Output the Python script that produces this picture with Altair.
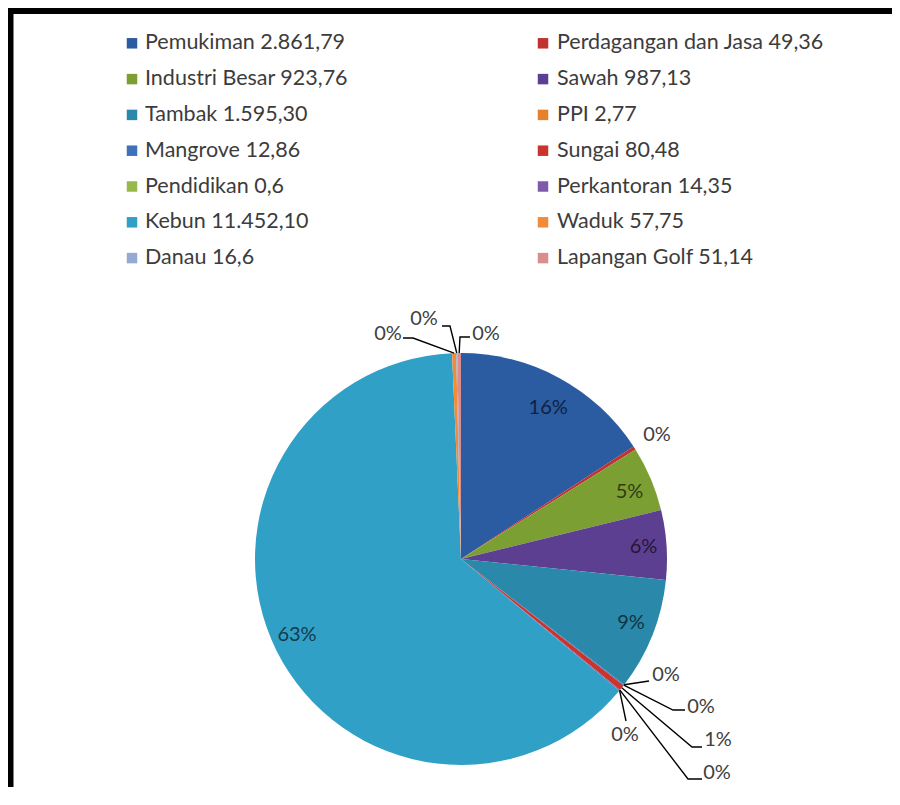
import math
import altair as alt
import pandas as pd

# ---------------- data ----------------
categories = ["Pemukiman", "Perdagangan dan Jasa", "Industri Besar", "Sawah", "Tambak",
              "PPI", "Mangrove", "Sungai", "Pendidikan", "Perkantoran",
              "Kebun", "Waduk", "Danau", "Lapangan Golf"]
areas = [2861.79, 49.36, 923.76, 987.13, 1595.30,
         2.77, 12.86, 80.48, 0.6, 14.35,
         11452.10, 57.75, 16.6, 51.14]
area_text = ["2.861,79", "49,36", "923,76", "987,13", "1.595,30",
             "2,77", "12,86", "80,48", "0,6", "14,35",
             "11.452,10", "57,75", "16,6", "51,14"]
pct_text = ["16%", "0%", "5%", "6%", "9%",
            "0%", "0%", "1%", "0%", "0%",
            "63%", "0%", "0%", "0%"]

# ---------------- styling / layout ----------------
colors = ["#2B5BA1", "#C0312F", "#7C9F34", "#5D3F91", "#2A89AB",
          "#E5802B", "#3D72BA", "#C9342F", "#95B94A", "#7D5BA8",
          "#31A0C6", "#F08C35", "#96A9D3", "#D98E8C"]

CX, CY = 461, 559          # pie centre (page px)
R = 206                    # pie radius
OX, OY = 30, 321           # view origin (page px)
W, H = 862, 466            # view size
inside = {"Pemukiman", "Industri Besar", "Sawah", "Tambak", "Kebun"}
LRX, LRY = 183, 172        # inside label radii

# legend grid layout (page px): two columns, row-major
LEG_SYM_X = [132, 543]
LEG_TXT_X = [145, 557]
LEG_Y0, LEG_DY = 43.3, 35.8

# callout label layout for the small slices (page px)
callouts = {
    "Perdagangan dan Jasa": dict(label=(657, 435), bends=None),
    "Waduk": dict(label=(388, 334), bends=[(413, 338), (403, 338)]),
    "Danau": dict(label=(424, 319), bends=[(450, 326), (442, 326)]),
    "Lapangan Golf": dict(label=(486, 334), bends=[(460, 337), (470, 337)]),
    "PPI": dict(label=(666, 675), bends=[(649, 681)]),
    "Mangrove": dict(label=(701, 707), bends=[(673, 710), (685, 710)]),
    "Sungai": dict(label=(718, 740), bends=[(692, 747), (702, 747)]),
    "Pendidikan": dict(label=(717, 773), bends=[(688, 779), (702, 779)]),
    "Perkantoran": dict(label=(625, 735), bends=[(626, 721)]),
}


def darken(hexc, f=0.38):
    r, g, b = (int(hexc[i:i + 2], 16) for i in (1, 3, 5))
    return "#%02x%02x%02x" % (int(r * f), int(g * f), int(b * f))


legend_labels = [f"{c} {t}" for c, t in zip(categories, area_text)]
pie_df = pd.DataFrame({"idx": range(len(categories)), "area": areas,
                       "legend_label": legend_labels})

leg_df = pd.DataFrame({
    "legend_label": legend_labels,
    "sx": [LEG_SYM_X[i % 2] - OX for i in range(len(categories))],
    "tx": [LEG_TXT_X[i % 2] - OX for i in range(len(categories))],
    "vy": [LEG_Y0 + LEG_DY * (i // 2) - OY for i in range(len(categories))],
})

# label anchors derived from the slice angles (converted to view pixels)
total = sum(areas)
cum = 0.0
in_rows, out_rows, line_rows = [], [], []
for i, (c, a) in enumerate(zip(categories, areas)):
    start = cum / total * 2 * math.pi
    cum += a
    end = cum / total * 2 * math.pi
    mid = (start + end) / 2
    if c in inside:
        in_rows.append(dict(vx=CX + LRX * math.sin(mid) - OX,
                            vy=CY - LRY * math.cos(mid) - OY,
                            pct=pct_text[i], tcol=darken(colors[i])))
    else:
        co = callouts[c]
        out_rows.append(dict(vx=co["label"][0] - OX, vy=co["label"][1] - OY, pct=pct_text[i]))
        if co["bends"]:
            pts = [(CX + R * math.sin(mid), CY - R * math.cos(mid))] + co["bends"]
            for s, (x, y) in enumerate(pts):
                line_rows.append(dict(id=c, seq=s, vx=x - OX, vy=y - OY))

in_df = pd.DataFrame(in_rows)
out_df = pd.DataFrame(out_rows)
line_df = pd.DataFrame(line_rows)

FONT = "Lato"
color_scale = alt.Scale(domain=legend_labels, range=colors)

one = alt.Data(values=[{"a": 1}])
frame_left = alt.Chart(one).mark_rule(color="black", strokeWidth=7).encode(
    x=alt.value(10 - OX), y=alt.value(8 - OY), y2=alt.value(H + 40))
frame_top = alt.Chart(one).mark_rule(color="black", strokeWidth=6).encode(
    x=alt.value(6 - OX), x2=alt.value(W + 40), y=alt.value(11 - OY))

pie = alt.Chart(pie_df).mark_arc(radius=R).encode(
    x=alt.value(CX - OX),
    y=alt.value(CY - OY),
    theta=alt.Theta("area:Q", stack=True),
    order=alt.Order("idx:Q"),
    color=alt.Color("legend_label:N", sort=legend_labels, scale=color_scale, legend=None),
)

leg_sym = alt.Chart(leg_df).mark_square(size=110, opacity=1).encode(
    x=alt.X("sx:Q", scale=None),
    y=alt.Y("vy:Q", scale=None),
    color=alt.Color("legend_label:N", sort=legend_labels, scale=color_scale, legend=None),
)

leg_txt = alt.Chart(leg_df).mark_text(
    align="left", baseline="middle", font=FONT, fontSize=21.5, fill="#3c3c3c"
).encode(
    x=alt.X("tx:Q", scale=None),
    y=alt.Y("vy:Q", scale=None),
    text="legend_label:N",
)

leaders = alt.Chart(line_df).mark_line(color="black", strokeWidth=1.4).encode(
    x=alt.X("vx:Q", scale=None),
    y=alt.Y("vy:Q", scale=None),
    detail="id:N",
    order="seq:Q",
)

in_text = alt.Chart(in_df).mark_text(font=FONT, fontSize=20).encode(
    x=alt.X("vx:Q", scale=None),
    y=alt.Y("vy:Q", scale=None),
    text="pct:N",
    fill=alt.Fill("tcol:N", scale=None),
)

out_text = alt.Chart(out_df).mark_text(font=FONT, fontSize=20, fill="#404040").encode(
    x=alt.X("vx:Q", scale=None),
    y=alt.Y("vy:Q", scale=None),
    text="pct:N",
)

chart = alt.layer(frame_left, frame_top, pie, leg_sym, leg_txt,
                  leaders, in_text, out_text).properties(
    width=W, height=H,
    padding={"left": OX - 8, "top": OY - 8, "right": 0, "bottom": 0},
    autosize=alt.AutoSizeParams(type="none"),
    background="white",
).configure_view(strokeWidth=0, stroke="transparent")

chart.save("out.html", embed_options={"renderer": "svg", "actions": False})
